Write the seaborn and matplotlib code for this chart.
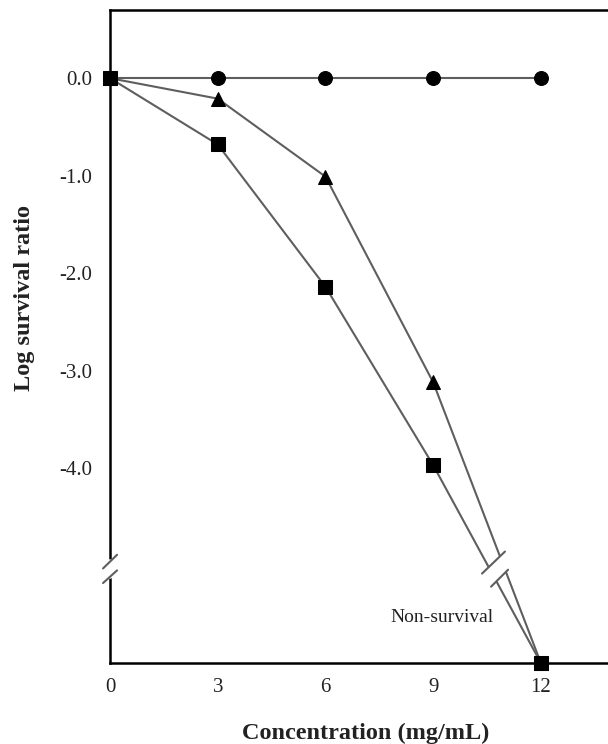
import matplotlib
matplotlib.use("Agg")
import matplotlib.pyplot as plt
import seaborn as sns
import numpy as np
import pandas as pd

# data
concentration = [0, 3, 6, 9, 12]
control = [0.0, 0.0, 0.0, 0.0, 0.0]
treat_a = [0.0, -0.21, -1.01, -3.12, -6.0]   # triangles
treat_b = [0.0, -0.68, -2.14, -3.97, -6.0]   # squares
y_ticks = [0, -1, -2, -3, -4]
x_ticks = [0, 3, 6, 9, 12]

LINE_COLOR = "#5e5e5e"
TEXT_COLOR = "#222222"
FONT = "Liberation Serif"

sns.set_style("white")
plt.rcParams["font.family"] = [FONT, "DejaVu Serif"]
plt.rcParams["axes.unicode_minus"] = False

fig = plt.figure(figsize=(6.08, 7.44), dpi=100)
ax = fig.add_axes([0.181, 0.1089, 0.819, 0.8777])

series = [(control, "o"), (treat_a, "^"), (treat_b, "s")]
for vals, mk in series:
    df = pd.DataFrame({"x": concentration, "y": vals})
    sns.lineplot(
        data=df, x="x", y="y", ax=ax, color=LINE_COLOR, linewidth=1.5,
        marker=mk, markersize=10, markerfacecolor="black",
        markeredgecolor="black", clip_on=False, zorder=4,
    )

ax.set_xlim(0, 13.87)
ax.set_ylim(-6.0, 0.7)
ax.set_xticks(x_ticks)
ax.set_yticks(y_ticks)
ax.set_yticklabels([f"{t:.1f}" for t in y_ticks])

for side in ["left", "bottom", "top"]:
    ax.spines[side].set_color("black")
    ax.spines[side].set_linewidth(1.8)
ax.spines["right"].set_visible(False)

ax.tick_params(axis="both", direction="in", length=4, width=1.5,
               labelsize=15, labelcolor=TEXT_COLOR, color="black")
ax.tick_params(axis="y", pad=13)
ax.tick_params(axis="x", pad=11)

ax.set_xlabel("Concentration (mg/mL)", fontsize=17.5, fontweight="bold",
              color=TEXT_COLOR)
ax.set_ylabel("Log survival ratio", fontsize=17.5, fontweight="bold",
              color=TEXT_COLOR)
ax.xaxis.set_label_coords(0.514, -0.091)
ax.yaxis.set_label_coords(-0.150, 0.559)

ax.text(7.8, -5.53, "Non-survival", fontsize=14, color=TEXT_COLOR,
        va="center", ha="left")

# break marks on the two falling lines
up_c, up_h = (10.68, -4.97), (0.32, 0.113)
lo_c, lo_h = (10.85, -5.13), (0.237, 0.087)
up = [(up_c[0] - up_h[0], up_c[1] - up_h[1]), (up_c[0] + up_h[0], up_c[1] + up_h[1])]
lo = [(lo_c[0] - lo_h[0], lo_c[1] - lo_h[1]), (lo_c[0] + lo_h[0], lo_c[1] + lo_h[1])]
poly = plt.Polygon([up[0], up[1], lo[1], lo[0]], closed=True,
                   facecolor="white", edgecolor="none", zorder=5)
ax.add_patch(poly)
for seg in (up, lo):
    ax.plot([seg[0][0], seg[1][0]], [seg[0][1], seg[1][1]],
            color=LINE_COLOR, lw=1.5, zorder=6)

# break on the y axis
ax.plot([0, 0], [-4.96, -5.11], color="white", lw=4, clip_on=False, zorder=7)
ax.plot([-0.195, 0.195], [-5.03, -4.89], color=LINE_COLOR, lw=1.5,
        clip_on=False, zorder=8)
ax.plot([-0.195, 0.195], [-5.18, -5.05], color=LINE_COLOR, lw=1.5,
        clip_on=False, zorder=8)

fig.savefig("out.png", dpi=100)
